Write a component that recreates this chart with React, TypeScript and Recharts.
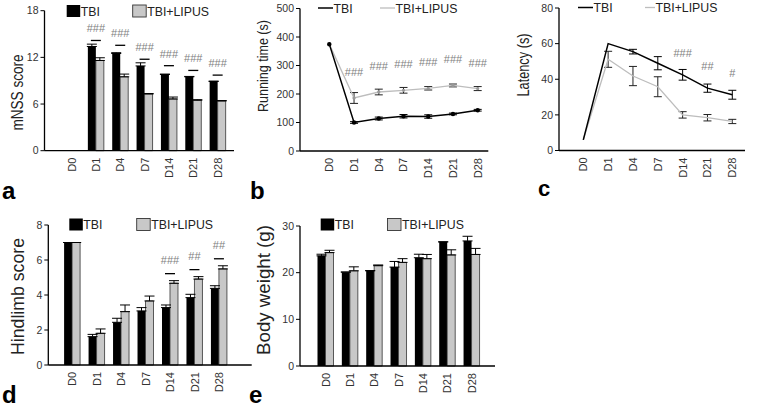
import React from 'react';
import { BarChart, Bar, LineChart, Line, XAxis, YAxis, ErrorBar, LabelList } from 'recharts';

const days = ['D0', 'D1', 'D4', 'D7', 'D14', 'D21', 'D28'];

// a: mNSS score
const mnssTbi = [0, 13.4, 12.5, 10.9, 9.8, 9.5, 8.9];
const mnssTbiErr = [0, 0.3, 0.1, 0.4, 0.05, 0.05, 0.05];
const mnssLipus = [0, 11.6, 9.5, 7.3, 6.65, 6.5, 6.4];
const mnssLipusErr = [0, 0.35, 0.35, 0.05, 0.25, 0.05, 0.05];
const mnssSig = ['', '###', '###', '###', '###', '###', '###'];

// b: running time (s)
const runTbi = [375, 100, 114, 122, 121, 130, 143];
const runTbiErr = [0, 3, 5, 6, 6, 3, 3];
const runLipus = [375, 186, 207, 213, 220, 230, 219];
const runLipusErr = [0, 19, 10, 10, 6, 5, 7];
const runSig = ['', '###', '###', '###', '###', '###', '###'];

// c: latency (s)
const latTbi = [6, 60, 55.5, 49, 42.5, 35, 31.3];
const latTbiErr = [0, 0, 1.3, 3.7, 3, 2.3, 2.5];
const latLipus = [6, 51.2, 41.8, 35.8, 20, 18.4, 16.3];
const latLipusErr = [0, 4.5, 5.4, 5.6, 1.8, 1.8, 1.2];
const latSig = ['', '', '', '', '###', '##', '#'];

// d: hindlimb score
const hindTbi = [7, 1.62, 2.44, 3.09, 3.28, 3.85, 4.38];
const hindTbiErr = [0, 0.13, 0.23, 0.19, 0.15, 0.19, 0.15];
const hindLipus = [7, 1.81, 3.05, 3.66, 4.67, 4.91, 5.49];
const hindLipusErr = [0, 0.25, 0.38, 0.28, 0.15, 0.14, 0.18];
const hindSig = ['', '', '', '', '###', '##', '##'];

// e: body weight (g)
const bwTbi = [23.6, 20.1, 20.4, 21.2, 23.2, 26.6, 26.8];
const bwTbiErr = [0.35, 0.05, 0.05, 1.2, 0.75, 0, 1.0];
const bwLipus = [24.3, 20.4, 21.5, 22.2, 23.0, 23.8, 23.9];
const bwLipusErr = [0.5, 0.85, 0.15, 0.8, 0.9, 1.1, 1.3];

const rows = (tbi: number[], tbiErr: number[], lipus: number[], lipusErr: number[], sig?: string[]) =>
  days.map((day, i) => ({ day, tbi: tbi[i], tbiErr: tbiErr[i], lipus: lipus[i], lipusErr: lipusErr[i], sig: sig ? sig[i] : '' }));

const mnssData = rows(mnssTbi, mnssTbiErr, mnssLipus, mnssLipusErr, mnssSig);
const runData = rows(runTbi, runTbiErr, runLipus, runLipusErr, runSig);
const latData = rows(latTbi, latTbiErr, latLipus, latLipusErr, latSig);
const hindData = rows(hindTbi, hindTbiErr, hindLipus, hindLipusErr, hindSig);
const bwData = rows(bwTbi, bwTbiErr, bwLipus, bwLipusErr);

const FONT = '"Liberation Sans", Arial, sans-serif';
const GREY = '#c8c8c8';
const SIG = '#7f7f7f';

const DayTick = (props: any) => {
  const { x, y, payload } = props;
  return (
    <text transform={`translate(${x},${y + 7}) rotate(-90)`} textAnchor="end" dy="0.36em" fontSize={11} fill="#333">
      {payload.value}
    </text>
  );
};

const yTick = { fontSize: 10.5, fill: '#333' };

// dash + hashes above a bar pair
const barSig = (data: any[], side: 'tbi' | 'lipus', gap: number, textGap: number) => (props: any) => {
  const vb = props.viewBox ?? props;
  const text = props.value;
  if (!text) return null;
  const row = data[props.index] || {};
  const v = row[side];
  const e = row[side + 'Err'] || 0;
  const errPx = v ? (e / v) * vb.height : 0;
  const cx = side === 'tbi' ? vb.x + vb.width : vb.x;
  const dashY = vb.y - errPx - gap;
  return (
    <g>
      <line x1={cx - 5} x2={cx + 5} y1={dashY} y2={dashY} stroke="#000" strokeWidth={1.3} />
      <text x={cx} y={dashY - textGap} textAnchor="middle" dominantBaseline="central" fontSize={11} fill={SIG}>
        {text}
      </text>
    </g>
  );
};

const lineSig = (offset: number) => (props: any) => {
  const vb = props.viewBox ?? props;
  if (!props.value) return null;
  return (
    <text x={vb.x} y={vb.y - offset} textAnchor="middle" dominantBaseline="central" fontSize={11} fill={SIG}>
      {props.value}
    </text>
  );
};

const upper = (key: string) => (r: any) => [0, r[key]];

const YLabel = ({ cx, cy, len, size, text }: any) => (
  <text
    transform={`translate(${cx},${cy}) rotate(-90)`}
    textAnchor="middle"
    dy="0.35em"
    fontSize={size}
    fill="#222"
    textLength={len}
    lengthAdjust="spacingAndGlyphs"
  >
    {text}
  </text>
);

const BarLegend = ({ x1, x2, y }: any) => (
  <g fontSize={12.3} fill="#222">
    <rect x={x1} y={y} width={13.5} height={12} fill="#000" />
    <text x={x1 + 14} y={y + 10.5}>TBI</text>
    <rect x={x2} y={y} width={13.5} height={12} fill={GREY} stroke="#333" strokeWidth={0.9} />
    <text x={x2 + 14.5} y={y + 10.5}>TBI+LIPUS</text>
  </g>
);

const LineLegend = ({ x1, x2, w2, y }: any) => (
  <g fontSize={12.3} fill="#222">
    <line x1={x1} x2={x1 + 15} y1={y} y2={y} stroke="#000" strokeWidth={1.5} />
    <text x={x1 + 15.5} y={y + 4.5}>TBI</text>
    <line x1={x2} x2={x2 + w2} y1={y} y2={y} stroke="#bdbdbd" strokeWidth={1.3} />
    <text x={x2 + w2 + 0.5} y={y + 4.5}>TBI+LIPUS</text>
  </g>
);

const Letter = ({ x, y, t, size = 24 }: any) => (
  <text x={x} y={y} fontSize={size} fontWeight="bold" fill="#000">{t}</text>
);

const axisProps = { stroke: '#000', strokeWidth: 1.3 };

const pos = (left: number, top: number): React.CSSProperties => ({ position: 'absolute', left, top });

export default function App() {
  return (
    <div style={{ position: 'absolute', left: 0, top: 0, width: 760, height: 410, background: '#fff', fontFamily: FONT, overflow: 'hidden' }}>
      {/* a */}
      <div style={pos(0, 0)}>
        <BarChart width={250} height={200} data={mnssData} margin={{ top: 10.7, right: 16, left: 0, bottom: 0 }} barGap={0} barSize={8}>
          <XAxis dataKey="day" scale="band" padding={{ left: 15, right: 4 }} height={49.3} tickLine={false} tickSize={0} tickMargin={0} interval={0} tick={<DayTick />} axisLine={axisProps} />
          <YAxis width={44.5} domain={[0, 18]} ticks={[0, 6, 12, 18]} tickSize={4} tickMargin={2} tick={yTick} axisLine={axisProps} tickLine={{ stroke: '#000' }} />
          <Bar dataKey="tbi" fill="#000" isAnimationActive={false}>
            <ErrorBar dataKey={upper('tbiErr')} width={5} stroke="#000" strokeWidth={1} />
            <LabelList dataKey="sig" content={barSig(mnssData, 'tbi', 6, 12)} />
          </Bar>
          <Bar dataKey="lipus" fill={GREY} stroke="#333" strokeWidth={0.8} isAnimationActive={false}>
            <ErrorBar dataKey={upper('lipusErr')} width={5} stroke="#000" strokeWidth={1} />
          </Bar>
        </BarChart>
      </div>

      {/* b */}
      <div style={pos(250, 0)}>
        <LineChart width={250} height={200} data={runData} margin={{ top: 8.5, right: 11.7, left: 0, bottom: 0 }}>
          <XAxis dataKey="day" scale="point" padding={{ left: 29.3, right: 10.6 }} height={49} tickLine={false} tickSize={0} tickMargin={0} interval={0} tick={<DayTick />} axisLine={axisProps} />
          <YAxis width={50} domain={[0, 500]} ticks={[0, 100, 200, 300, 400, 500]} tickSize={4} tickMargin={2} tick={yTick} axisLine={axisProps} tickLine={{ stroke: '#000' }} />
          <Line dataKey="lipus" stroke="#bdbdbd" strokeWidth={1.3} dot={{ r: 1, fill: '#999', stroke: '#999' }} isAnimationActive={false}>
            <ErrorBar dataKey="lipusErr" width={4} stroke="#222" strokeWidth={1} />
            <LabelList dataKey="sig" content={lineSig(26)} />
          </Line>
          <Line dataKey="tbi" stroke="#000" strokeWidth={1.5} dot={{ r: 1.5, fill: '#000', stroke: '#000' }} isAnimationActive={false}>
            <ErrorBar dataKey="tbiErr" width={4} stroke="#000" strokeWidth={1} />
          </Line>
        </LineChart>
      </div>

      {/* c */}
      <div style={pos(500, 0)}>
        <LineChart width={260} height={200} data={latData} margin={{ top: 8, right: 15, left: 0, bottom: 0 }}>
          <XAxis dataKey="day" scale="point" padding={{ left: 24.3, right: 12.7 }} height={49.5} tickLine={false} tickSize={0} tickMargin={0} interval={0} tick={<DayTick />} axisLine={axisProps} />
          <YAxis width={59} domain={[0, 80]} ticks={[0, 20, 40, 60, 80]} tickSize={4} tickMargin={2} tick={yTick} axisLine={axisProps} tickLine={{ stroke: '#000' }} />
          <Line dataKey="lipus" stroke="#bdbdbd" strokeWidth={1.3} dot={false} isAnimationActive={false}>
            <ErrorBar dataKey="lipusErr" width={4} stroke="#222" strokeWidth={1} />
          </Line>
          <Line dataKey="tbi" stroke="#000" strokeWidth={1.5} dot={false} isAnimationActive={false}>
            <ErrorBar dataKey="tbiErr" width={4} stroke="#000" strokeWidth={1} />
            <LabelList dataKey="sig" content={lineSig(22)} />
          </Line>
        </LineChart>
      </div>

      {/* d */}
      <div style={pos(0, 200)}>
        <BarChart width={260} height={210} data={hindData} margin={{ top: 25, right: 8.3, left: 0, bottom: 0 }} barGap={0} barSize={8}>
          <XAxis dataKey="day" scale="band" padding={{ left: 11.8, right: 20.3 }} height={45} tickLine={false} tickSize={0} tickMargin={0} interval={0} tick={<DayTick />} axisLine={axisProps} />
          <YAxis width={48.3} domain={[0, 8]} ticks={[0, 2, 4, 6, 8]} tickSize={4} tickMargin={2} tick={yTick} axisLine={axisProps} tickLine={{ stroke: '#000' }} />
          <Bar dataKey="tbi" fill="#000" isAnimationActive={false}>
            <ErrorBar dataKey={upper('tbiErr')} width={5} stroke="#000" strokeWidth={1} />
          </Bar>
          <Bar dataKey="lipus" fill={GREY} stroke="#333" strokeWidth={0.8} isAnimationActive={false}>
            <ErrorBar dataKey={upper('lipusErr')} width={5} stroke="#000" strokeWidth={1} />
            <LabelList dataKey="sig" content={barSig(hindData, 'lipus', 7, 14)} />
          </Bar>
        </BarChart>
      </div>

      {/* e */}
      <div style={pos(260, 200)}>
        <BarChart width={250} height={210} data={bwData} margin={{ top: 26, right: 15, left: 0, bottom: 0 }} barGap={0} barSize={8}>
          <XAxis dataKey="day" scale="band" padding={{ left: 13.5, right: 11.1 }} height={44} tickLine={false} tickSize={0} tickMargin={0} interval={0} tick={<DayTick />} axisLine={axisProps} />
          <YAxis width={40} domain={[0, 30]} ticks={[0, 10, 20, 30]} tickSize={4} tickMargin={2} tick={yTick} axisLine={axisProps} tickLine={{ stroke: '#000' }} />
          <Bar dataKey="tbi" fill="#000" isAnimationActive={false}>
            <ErrorBar dataKey={upper('tbiErr')} width={5} stroke="#000" strokeWidth={1} />
          </Bar>
          <Bar dataKey="lipus" fill={GREY} stroke="#333" strokeWidth={0.8} isAnimationActive={false}>
            <ErrorBar dataKey={upper('lipusErr')} width={5} stroke="#000" strokeWidth={1} />
          </Bar>
        </BarChart>
      </div>

      {/* titles, legends, panel letters */}
      <svg width={760} height={410} style={{ position: 'absolute', left: 0, top: 0, pointerEvents: 'none' }}>
        <YLabel cx={17.5} cy={92.5} len={76} size={16} text="mNSS score" />
        <YLabel cx={263} cy={66} len={92} size={15} text="Running time (s)" />
        <YLabel cx={523} cy={65} len={63} size={16} text="Latency (s)" />
        <YLabel cx={18.3} cy={296.5} len={117} size={17.5} text="Hindlimb score" />
        <YLabel cx={263.5} cy={290} len={130} size={17.5} text="Body weight (g)" />

        <BarLegend x1={66.7} x2={132.7} y={5} />
        <BarLegend x1={69.3} x2={136.7} y={218.5} />
        <BarLegend x1={320.7} x2={387.5} y={218.5} />
        <LineLegend x1={318} x2={380} w2={15} y={8} />
        <LineLegend x1={578} x2={645} w2={10} y={7.5} />

        <Letter x={2} y={199} t="a" />
        <Letter x={250} y={199} t="b" />
        <Letter x={538} y={196} t="c" size={22} />
        <Letter x={2} y={403} t="d" />
        <Letter x={249} y={403} t="e" />
      </svg>
    </div>
  );
}
